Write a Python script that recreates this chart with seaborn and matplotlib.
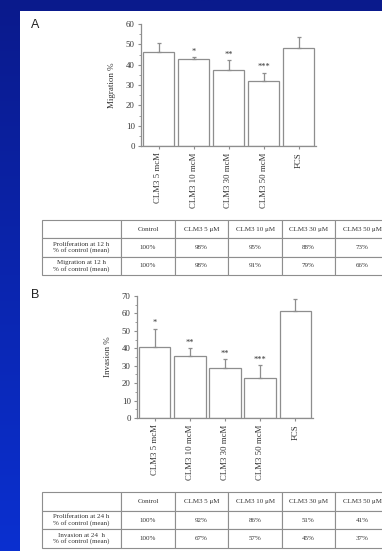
import numpy as np
import pandas as pd
import matplotlib
matplotlib.use("Agg")
import matplotlib.pyplot as plt
from matplotlib.patches import Rectangle
from matplotlib.ticker import MultipleLocator
import seaborn as sns

# ---- data -------------------------------------------------------------
conditions = ["CLM3 5 mcM", "CLM3 10 mcM", "CLM3 30 mcM", "CLM3 50 mcM", "FCS"]

migration_mean = [46.3, 43.0, 37.5, 31.8, 48.4]
migration_err = [4.5, 0.8, 4.7, 4.3, 5.3]
migration_sig = ["", "*", "**", "***", ""]

invasion_mean = [40.9, 35.6, 28.7, 22.8, 61.3]
invasion_err = [10.3, 4.4, 5.0, 7.6, 6.8]
invasion_sig = ["*", "**", "**", "***", ""]

table_header = ["", "Control", "CLM3 5 \u03bcM", "CLM3 10 \u03bcM", "CLM3 30 \u03bcM", "CLM3 50 \u03bcM"]
table_a_rows = ["Proliferation at 12 h\n% of control (mean)",
                "Migration at 12 h\n% of control (mean)"]
table_a_values = [["100%", "98%", "95%", "88%", "73%"],
                  ["100%", "98%", "91%", "79%", "66%"]]
table_b_rows = ["Proliferation at 24 h\n% of control (mean)",
                "Invasion at 24  h\n% of control (mean)"]
table_b_values = [["100%", "92%", "86%", "51%", "41%"],
                  ["100%", "67%", "57%", "45%", "37%"]]

# ---- style ------------------------------------------------------------
sns.set_theme(style="ticks")
plt.rcParams["font.family"] = ["Liberation Serif", "DejaVu Serif"]
TEXT = "#333333"
LINE = "#8e8e8e"

W, H = 382, 551
fig = plt.figure(figsize=(W / 100, H / 100), dpi=100)

# slide background: blue gradient with a white panel
bg = fig.add_axes([0, 0, 1, 1], zorder=-10)
grad = np.linspace(0, 1, 256)[:, None]
top = np.array([10, 26, 140]) / 255
bottom = np.array([11, 48, 208]) / 255
img = top[None, None, :] * (1 - grad[..., None]) + bottom[None, None, :] * grad[..., None]
bg.imshow(img, extent=[0, W, H, 0], aspect="auto")
bg.add_patch(Rectangle((20, 11), W - 20, H - 11, facecolor="white", edgecolor="none"))
bg.set_xlim(0, W)
bg.set_ylim(H, 0)
bg.axis("off")


def px_axes(x0, y0, x1, y1):
    """Axes placed by pixel box (top-left origin)."""
    return fig.add_axes([x0 / W, 1 - y1 / H, (x1 - x0) / W, (y1 - y0) / H])


def draw_bars(ax, means, errs, sig, ylabel, ymax):
    df = pd.DataFrame({"condition": conditions, "value": means})
    sns.barplot(data=df, x="condition", y="value", color="white", saturation=1,
                edgecolor=LINE, linewidth=0.9, width=0.9, ax=ax)
    pos = np.arange(len(means))
    ax.errorbar(pos, means, yerr=[np.zeros(len(errs)), errs], fmt="none",
                ecolor=LINE, elinewidth=0.9, capsize=1.6, capthick=0.9, zorder=3)
    for i, (m, e, s) in enumerate(zip(means, errs, sig)):
        if s:
            ax.annotate(s, (i, m + e), xytext=(0, 1.0), textcoords="offset points",
                        ha="center", va="bottom", fontsize=6, color=TEXT)
    ax.set_xlim(-0.5, 4.5)
    ax.set_ylim(0, ymax)
    ax.yaxis.set_major_locator(MultipleLocator(10))
    ax.yaxis.set_minor_locator(MultipleLocator(5))
    ax.set_xlabel("")
    ax.set_ylabel(ylabel, fontsize=6.5, color=TEXT, labelpad=7)
    sns.despine(ax=ax)
    for sp in ("left", "bottom"):
        ax.spines[sp].set_color(LINE)
        ax.spines[sp].set_linewidth(0.9)
    ax.tick_params(axis="both", which="major", length=2.5, width=0.8, color=LINE,
                   labelsize=6.3, labelcolor=TEXT, pad=2)
    ax.tick_params(axis="y", which="minor", length=1.5, width=0.6, color=LINE)
    ax.tick_params(axis="x", labelrotation=90)
    ax.set_facecolor("none")


def draw_table(ax, rows, values):
    ax.axis("off")
    cells = [table_header] + [[r] + v for r, v in zip(rows, values)]
    tbl = ax.table(cellText=cells, cellLoc="center", bbox=[0, 0, 1, 1],
                   colWidths=[79, 54, 53, 54, 53, 54])
    tbl.auto_set_font_size(False)
    for (r, c), cell in tbl.get_celld().items():
        cell.set_edgecolor(LINE)
        cell.set_linewidth(0.8)
        cell.set_facecolor("white")
        cell.get_text().set_fontsize(5)
        cell.get_text().set_color(TEXT)
        cell.get_text().set_linespacing(1.1)


# panel A
axA = px_axes(141, 24, 316, 146)
draw_bars(axA, migration_mean, migration_err, migration_sig, "Migration %", 60)
tA = px_axes(42, 220, 389, 275)
draw_table(tA, table_a_rows, table_a_values)

# panel B
axB = px_axes(137, 296, 313, 418)
draw_bars(axB, invasion_mean, invasion_err, invasion_sig, "Invasion %", 70)
tB = px_axes(42, 492, 389, 548)
draw_table(tB, table_b_rows, table_b_values)

# panel letters
bg.text(35, 25, "A", fontsize=9, family=["Liberation Sans", "DejaVu Sans"],
        color="#222222", ha="center", va="center")
bg.text(35, 295, "B", fontsize=9, family=["Liberation Sans", "DejaVu Sans"],
        color="#222222", ha="center", va="center")

fig.savefig("out.png", dpi=100)
